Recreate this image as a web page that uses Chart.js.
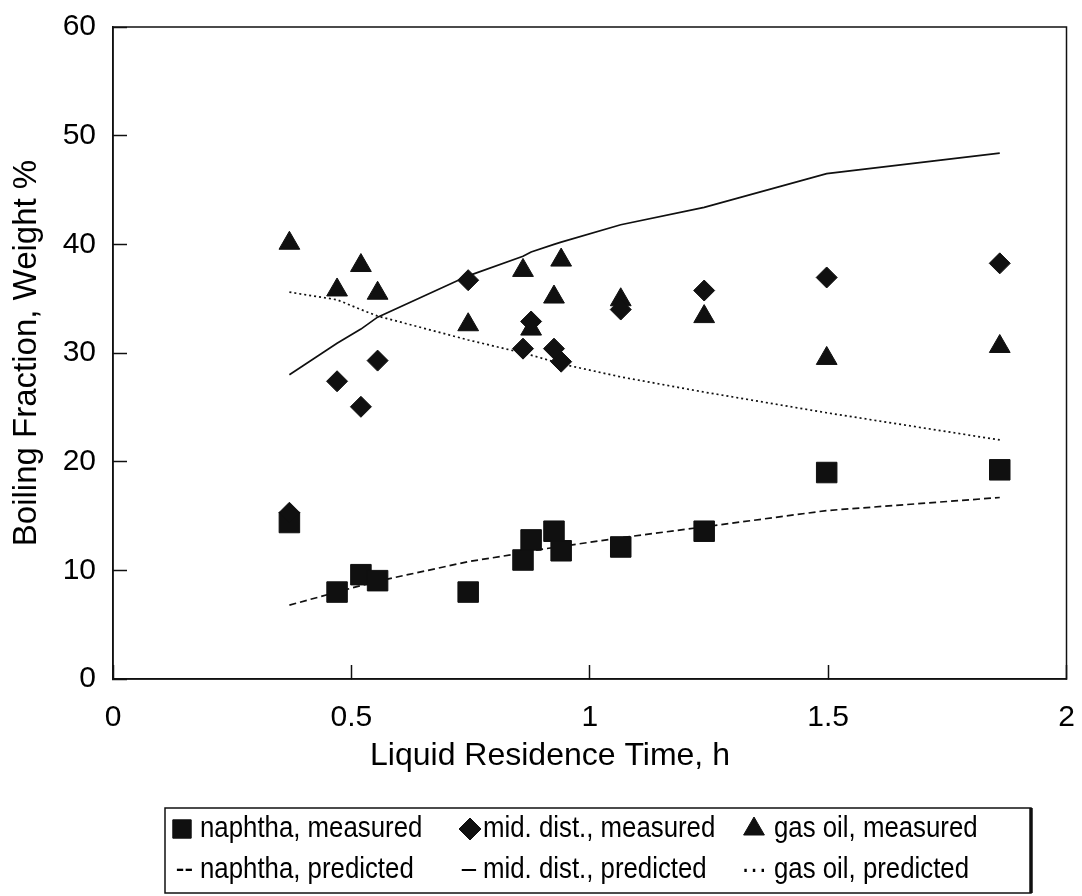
<!DOCTYPE html>
<html><head><meta charset="utf-8">
<script src="https://cdn.jsdelivr.net/npm/chart.js@4.4.1/dist/chart.umd.min.js"></script>
<style>html,body{margin:0;padding:0;background:#fff;} canvas{display:block;}</style>
</head><body>
<canvas id="c" width="1082" height="896" style="width:1082px;height:896px"></canvas>
<script>
// ---- data ----
const timesH = [0.37, 0.47, 0.52, 0.555, 0.745, 0.86, 0.877, 0.925, 0.94, 1.065, 1.24, 1.497, 1.86];
const naphthaMeasured  = [14.4, 8.0, 9.6, 9.05, 8.0, 10.95, 12.8, 13.6, 11.8, 12.15, 13.6, 19.0, 19.25];
const midDistMeasured  = [15.3, 27.4, 25.05, 29.3, 36.7, 30.4, 32.9, 30.4, 29.2, 34.0, 35.75, 36.95, 38.25];
const gasOilMeasured   = [40.1, 35.8, 38.05, 35.5, 32.6, 37.6, 32.2, 35.15, 38.55, 34.9, 33.35, 29.5, 30.6];
const naphthaPredicted = [6.8, 8.0, 8.6, 9.0, 10.8, 11.6, 11.8, 12.1, 12.2, 13.0, 14.0, 15.5, 16.7];
const midDistPredicted = [28.0, 30.9, 32.2, 33.3, 37.1, 38.9, 39.3, 40.0, 40.2, 41.8, 43.4, 46.5, 48.4];
const gasOilPredicted  = [35.6, 34.9, 34.0, 33.4, 31.2, 30.0, 29.8, 29.2, 29.0, 27.8, 26.4, 24.5, 22.0];
const xTickValues = [0, 0.5, 1, 1.5, 2];
const yTickValues = [0, 10, 20, 30, 40, 50, 60];
const xAxisTitle = 'Liquid Residence Time, h';
const yAxisTitle = 'Boiling Fraction, Weight %';
const seriesLabels = ['naphtha, measured', 'mid. dist., measured', 'gas oil, measured',
                      'naphtha, predicted', 'mid. dist., predicted', 'gas oil, predicted'];
const predictedGlyphs = ['--', '\u2013', '\u00b7\u00b7\u00b7'];

const BASE = "'Liberation Sans', Arial, Helvetica, sans-serif";
const INK = '#101010';

const pts = ys => timesH.map((t, i) => ({x: t, y: ys[i]}));

const framePlugin = {
  id: 'frame',
  afterDraw(chart){
    const {ctx, chartArea: a} = chart;
    ctx.save();
    ctx.strokeStyle = INK; ctx.lineWidth = 1.5;
    ctx.strokeRect(a.left, a.top, a.right - a.left, a.bottom - a.top);
    ctx.restore();
  }
};

const xTitlePlugin = {
  id: 'xTitle',
  afterDraw(chart){
    const ctx = chart.ctx;
    ctx.save();
    ctx.fillStyle = '#000';
    ctx.font = '32px ' + BASE;
    ctx.textAlign = 'center'; ctx.textBaseline = 'alphabetic';
    ctx.fillText(xAxisTitle, 550, 765);
    ctx.restore();
  }
};

function condensedText(ctx, text, x, y, align){
  ctx.save();
  ctx.translate(x, y);
  ctx.scale(0.86, 1);
  ctx.textAlign = align;
  ctx.fillText(text, 0, 0);
  ctx.restore();
}

const legendPlugin = {
  id: 'boxLegend',
  afterDraw(chart){
    const ctx = chart.ctx;
    const ds = chart.data.datasets;
    const box = {l: 165, t: 808, r: 1031, b: 893};
    const textX = [200, 483, 774];
    const markX = [182, 470, 754];
    const markY = 829;
    const baseY = [837, 878];
    const markR = [13, 11, 12];
    ctx.save();
    ctx.strokeStyle = INK; ctx.lineWidth = 1.5;
    ctx.strokeRect(box.l, box.t, box.r - box.l, box.b - box.t);
    ctx.lineWidth = 3.5;
    ctx.beginPath(); ctx.moveTo(box.r, box.t); ctx.lineTo(box.r, box.b); ctx.stroke();
    ctx.font = '30px ' + BASE;
    ctx.textBaseline = 'alphabetic';
    for (let i = 0; i < 3; i++){
      const d = ds[i];
      ctx.fillStyle = INK; ctx.strokeStyle = INK; ctx.lineWidth = 1;
      Chart.helpers.drawPoint(ctx, {pointStyle: d.pointStyle, radius: markR[i], rotation: 0, borderWidth: 1}, markX[i], markY);
      ctx.fillStyle = '#000';
      condensedText(ctx, d.label, textX[i], baseY[0], 'left');
      const p = ds[i + 3];
      condensedText(ctx, predictedGlyphs[i], textX[i] - 7, baseY[1], 'right');
      condensedText(ctx, p.label, textX[i], baseY[1], 'left');
    }
    ctx.restore();
  }
};

const zeroPad = s => { s.paddingTop = 0; s.paddingBottom = 0; s.paddingLeft = 0; s.paddingRight = 0; };
const tickFont = {family: BASE, size: 30};
const axisCommon = {
  type: 'linear',
  grid: {drawOnChartArea: false, drawTicks: true, tickLength: -14, tickColor: INK, tickWidth: 1.5},
  border: {display: true, color: INK, width: 1.5},
};

new Chart(document.getElementById('c').getContext('2d'), {
  type: 'scatter',
  data: {
    datasets: [
      {label: seriesLabels[0], data: pts(naphthaMeasured), pointStyle: 'rect', pointRadius: 14.5,
       backgroundColor: INK, borderColor: INK, borderWidth: 1, order: 3},
      {label: seriesLabels[1], data: pts(midDistMeasured), pointStyle: 'rectRot', pointRadius: 10.5,
       backgroundColor: INK, borderColor: INK, borderWidth: 1, order: 1},
      {label: seriesLabels[2], data: pts(gasOilMeasured), pointStyle: 'triangle', pointRadius: 12,
       backgroundColor: INK, borderColor: INK, borderWidth: 1, order: 2},
      {label: seriesLabels[3], data: pts(naphthaPredicted), showLine: true, pointRadius: 0,
       borderColor: INK, borderWidth: 1.7, borderDash: [7, 4], fill: false, order: 4},
      {label: seriesLabels[4], data: pts(midDistPredicted), showLine: true, pointRadius: 0,
       borderColor: INK, borderWidth: 1.7, fill: false, order: 4},
      {label: seriesLabels[5], data: pts(gasOilPredicted), showLine: true, pointRadius: 0,
       borderColor: INK, borderWidth: 1.7, borderDash: [2, 3], fill: false, order: 4}
    ]
  },
  options: {
    responsive: false, animation: false, devicePixelRatio: 1,
    layout: {padding: {top: 27, right: 12, bottom: 0, left: 0}},
    plugins: {legend: {display: false}, tooltip: {enabled: false}},
    scales: {
      x: Object.assign({}, axisCommon, {
        min: 0, max: 2,
        afterBuildTicks: s => { s.ticks = xTickValues.map(v => ({value: v})); },
        afterFit: s => { s.height = 217; zeroPad(s); },
        ticks: {padding: 35, color: '#000', font: tickFont, autoSkip: false, maxRotation: 0,
                callback: v => String(v)},
        title: {display: false}
      }),
      y: Object.assign({}, axisCommon, {
        min: 0, max: 60,
        afterBuildTicks: s => { s.ticks = yTickValues.map(v => ({value: v})); },
        afterFit: s => { s.width = 113; zeroPad(s); },
        ticks: {padding: 31, color: '#000', font: tickFont, autoSkip: false, callback: v => String(v)},
        title: {display: true, text: yAxisTitle, color: '#000', font: {family: BASE, size: 33},
                padding: {top: 7, bottom: 0}}
      })
    }
  },
  plugins: [framePlugin, legendPlugin, xTitlePlugin]
});
</script>
</body></html>
